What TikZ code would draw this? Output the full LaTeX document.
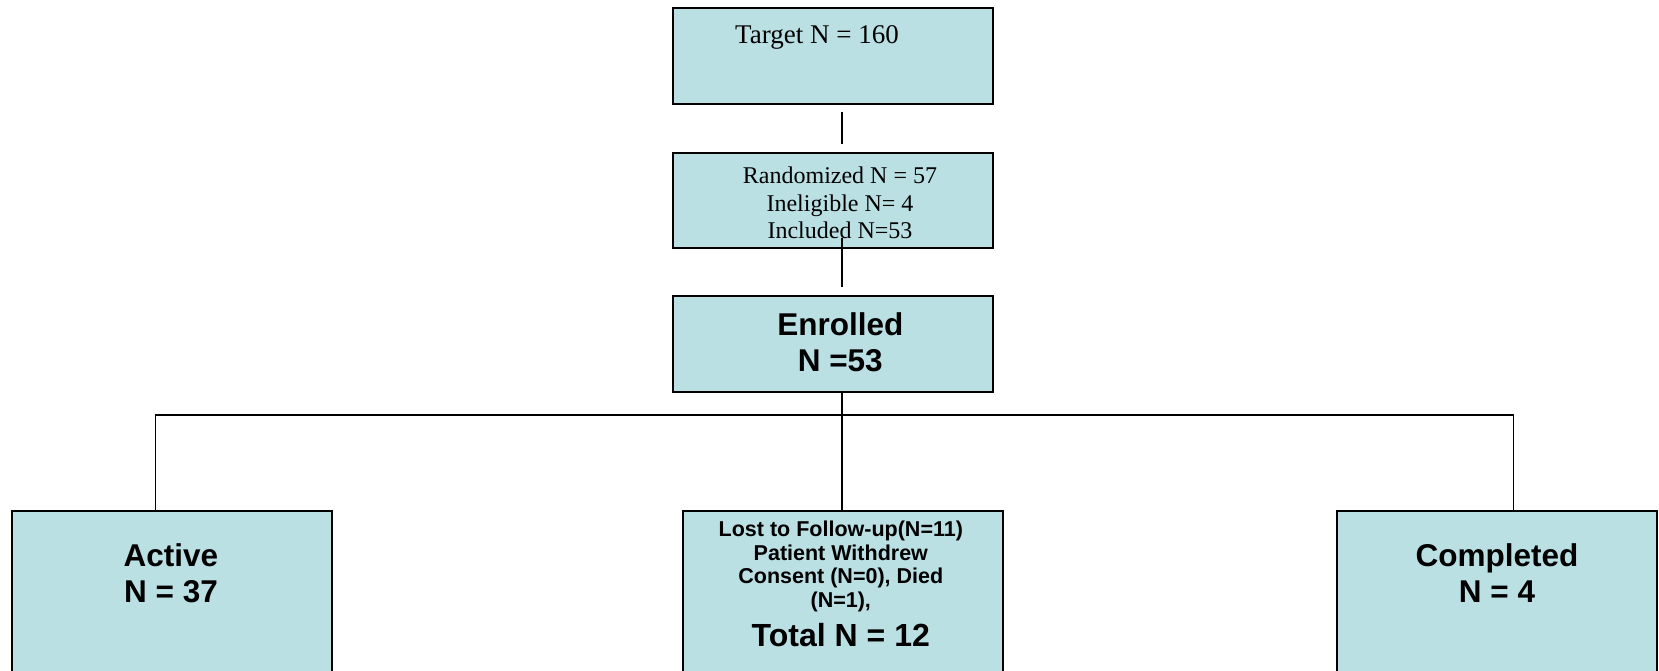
\documentclass[tikz,border=0pt]{standalone}
\usepackage{fontspec}
\setmainfont{Liberation Serif}
\newfontfamily\arialfont{Liberation Sans}
\definecolor{boxfill}{RGB}{186,224,228}
\begin{document}
\begin{tikzpicture}[x=1pt,y=-1pt,
  box/.style={draw=black, line width=2pt, fill=boxfill, inner sep=0pt, minimum width=320pt},
  conn/.style={draw=black, line width=1.5pt},
  serifsmall/.style={font=\fontsize{24}{27.6}\selectfont, align=center, anchor=base, inner sep=0pt},
  serifbig/.style={font=\fontsize{27}{31}\selectfont, align=center, anchor=base, inner sep=0pt},
  sansbig/.style={font=\arialfont\bfseries\fontsize{31.5}{36}\selectfont, align=center, anchor=base, inner sep=0pt},
  sanssmall/.style={font=\arialfont\bfseries\fontsize{21.5}{23.3}\selectfont, align=center, anchor=base, inner sep=0pt},
  sanstotal/.style={font=\arialfont\bfseries\fontsize{32}{36}\selectfont, align=center, anchor=base, inner sep=0pt}]
\useasboundingbox (0,0) rectangle (1659,670);
\clip (0,0) rectangle (1659,670);

% boxes
\node[box, minimum height=96pt] (target) at (832.7,56.3) {};
\node[box, minimum height=95.6pt] (random) at (832.7,200.5) {};
\node[box, minimum height=95.7pt] (enrolled) at (832.7,343.85) {};
\node[box, minimum height=180pt] (active) at (171.7,600.7) {};
\node[box, minimum height=180pt] (lost) at (842.7,600.7) {};
\node[box, minimum height=180pt, minimum width=319.4pt] (completed) at (1497,600.7) {};

% texts
\node[serifbig] (ttarget) at (817,43) {Target N = 160};
\node[serifsmall] (trand1) at (840,183) {Randomized N = 57};
\node[serifsmall] (trand2) at (840,211) {Ineligible N= 4};
\node[serifsmall] (trand3) at (840,238) {Included N=53};
\node[sansbig] (tenr1) at (840.3,335.5) {Enrolled};
\node[sansbig] (tenr2) at (840.3,371) {N =53};
\node[sansbig] (tact1) at (171,566.7) {Active};
\node[sansbig] (tact2) at (171,602.7) {N = 37};
\node[sanssmall] (tlost1) at (840.8,536.5) {Lost to Follow-up(N=11)};
\node[sanssmall] (tlost2) at (840.8,560) {Patient Withdrew};
\node[sanssmall] (tlost3) at (840.8,583.5) {Consent (N=0), Died};
\node[sanssmall] (tlost4) at (840.8,607) {(N=1),};
\node[sanstotal] (tlost5) at (840.8,646) {Total N = 12};
\node[sansbig] (tcomp1) at (1497,566.7) {Completed};
\node[sansbig] (tcomp2) at (1497,602.7) {N = 4};

% connectors
\coordinate (c1a) at (842,111.7);
\coordinate (c1b) at (842,144);
\draw[conn] (c1a) -- (c1b);
\coordinate (c2a) at (842,238);
\coordinate (c2b) at (842,287);
\draw[conn] (c2a) -- (c2b);
\coordinate (spine) at (842,415);
\draw[conn] (spine |- enrolled.south) -- (spine |- lost.north);
\coordinate (lv) at (155.7,415);
\coordinate (rv) at (1513.3,415);
\draw[conn] (lv |- active.north) -- (lv) -- (rv) -- (rv |- completed.north);
\end{tikzpicture}
\end{document}
